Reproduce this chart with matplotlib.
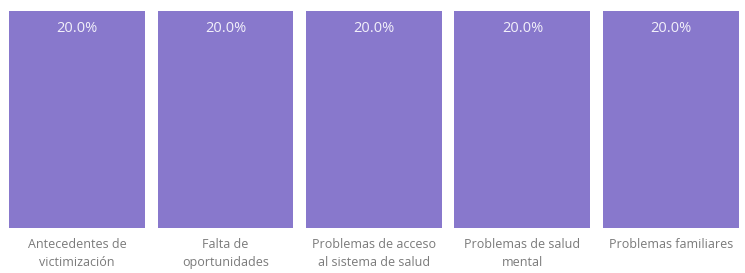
import matplotlib.pyplot as plt

categories = ["Antecedentes de\nvictimización", "Falta de\noportunidades",
              "Problemas de acceso\nal sistema de salud", "Problemas de salud\nmental",
              "Problemas familiares"]
values = [20.0, 20.0, 20.0, 20.0, 20.0]

plt.rcParams['font.family'] = ['Open Sans', 'DejaVu Sans']

fig = plt.figure(figsize=(7.45, 2.73), dpi=100)
ax = fig.add_axes([0.004, 1 - 228 / 273, 0.996, 217 / 273])

x = range(len(categories))
ax.bar(x, values, width=0.915, color='#8878cc')
for i, v in zip(x, values):
    ax.text(i, v - 1.6, f"{v:.1f}%", ha='center', va='center', color='#f2f0fa', fontsize=10.5)

ax.set_xlim(-0.5, len(categories) - 0.5)
ax.set_ylim(0, 20)
ax.set_xticks(list(x))
ax.set_xticklabels(categories, fontsize=9, color='#7a7a7a', linespacing=1.55)
ax.tick_params(axis='x', length=0, pad=7)
ax.set_yticks([])
for s in ax.spines.values():
    s.set_visible(False)

fig.savefig('out.png', dpi=100)
